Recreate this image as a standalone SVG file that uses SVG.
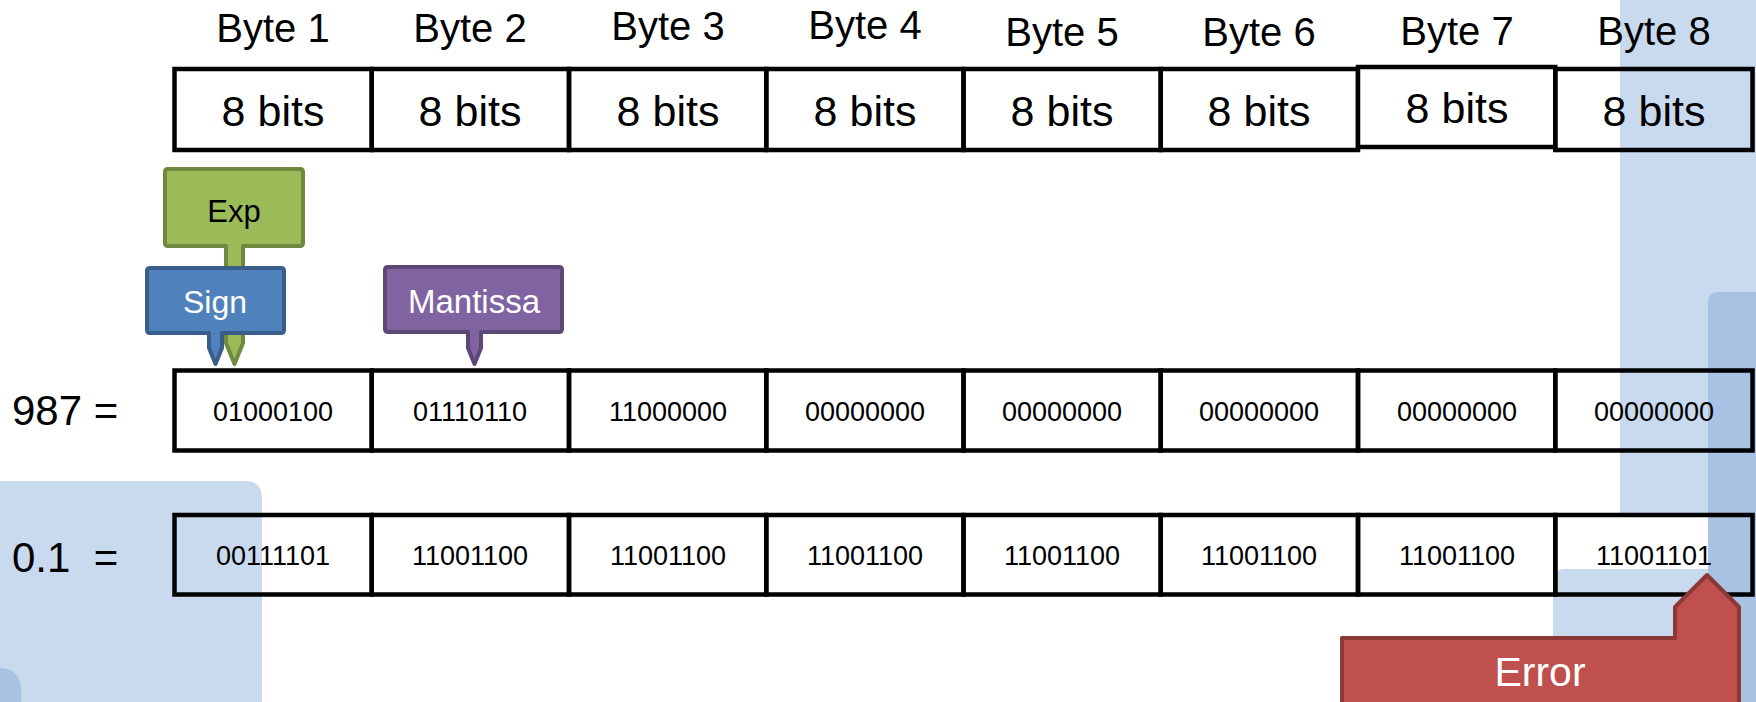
<svg xmlns="http://www.w3.org/2000/svg" width="1756" height="702" viewBox="0 0 1756 702">
<style>
text{font-family:"Liberation Sans",Arial,sans-serif;text-anchor:middle;fill:#000}
.lbl{font-size:40px}
.bits{font-size:43px}
.val{font-size:27px}
.eq{font-size:42px;text-anchor:start;white-space:pre}
.cell{fill:none;stroke:#000;stroke-width:4.5}
.bgl{fill:#C9D9EE}
.bgd{fill:#A9C1E2}
.co{stroke-width:4;stroke-linejoin:round}
.wt{fill:#fff;font-size:32px}
</style>
<g id="background">
<rect class="bgl" x="1620" y="0" width="136" height="514"/>
<path class="bgl" d="M1553,702 V581 Q1553,569 1565,569 H1756 V702 Z"/>
<path class="bgd" d="M1708,702 V302 Q1708,292 1718,292 H1756 V702 Z"/>
<path class="bgl" d="M0,702 V481 H245 Q262,481 262,498 V702 Z"/>
<path class="bgd" d="M0,702 V668 H1 A20,20 0 0 1 21,688 V702 Z"/>
</g>
<g id="connectors"/>
<g id="header">
<g id="byte1"><rect class="cell" x="174.5" y="69" width="197.25" height="81"/><text class="lbl" x="273" y="42">Byte 1</text><text class="bits" x="273" y="126">8 bits</text></g>
<g id="byte2"><rect class="cell" x="371.75" y="69" width="197.25" height="81"/><text class="lbl" x="470" y="42">Byte 2</text><text class="bits" x="470" y="126">8 bits</text></g>
<g id="byte3"><rect class="cell" x="569" y="69" width="197.25" height="81"/><text class="lbl" x="668" y="40">Byte 3</text><text class="bits" x="668" y="126">8 bits</text></g>
<g id="byte4"><rect class="cell" x="766.25" y="69" width="197.25" height="81"/><text class="lbl" x="865" y="39">Byte 4</text><text class="bits" x="865" y="126">8 bits</text></g>
<g id="byte5"><rect class="cell" x="963.5" y="69" width="197.25" height="81"/><text class="lbl" x="1062" y="46">Byte 5</text><text class="bits" x="1062" y="126">8 bits</text></g>
<g id="byte6"><rect class="cell" x="1160.75" y="69" width="197.25" height="81"/><text class="lbl" x="1259" y="46">Byte 6</text><text class="bits" x="1259" y="126">8 bits</text></g>
<g id="byte8"><rect class="cell" x="1555.25" y="69" width="197.25" height="81"/><text class="lbl" x="1654" y="45">Byte 8</text><text class="bits" x="1654" y="126">8 bits</text></g>
<g id="byte7"><rect class="cell" x="1358" y="67" width="197.25" height="80" style="fill:#fff"/><text class="lbl" x="1457" y="45">Byte 7</text><text class="bits" x="1457" y="123">8 bits</text></g>
</g>
<g id="row987">
<text class="eq" x="12" y="425">987 =</text>
<rect class="cell" x="174.5" y="370.5" width="197.25" height="80"/>
<rect class="cell" x="371.75" y="370.5" width="197.25" height="80"/>
<rect class="cell" x="569" y="370.5" width="197.25" height="80"/>
<rect class="cell" x="766.25" y="370.5" width="197.25" height="80"/>
<rect class="cell" x="963.5" y="370.5" width="197.25" height="80"/>
<rect class="cell" x="1160.75" y="370.5" width="197.25" height="80"/>
<rect class="cell" x="1358" y="370.5" width="197.25" height="80"/>
<rect class="cell" x="1555.25" y="370.5" width="197.25" height="80"/>
<text class="val" x="273" y="421">01000100</text>
<text class="val" x="470" y="421">01110110</text>
<text class="val" x="668" y="421">11000000</text>
<text class="val" x="865" y="421">00000000</text>
<text class="val" x="1062" y="421">00000000</text>
<text class="val" x="1259" y="421">00000000</text>
<text class="val" x="1457" y="421">00000000</text>
<text class="val" x="1654" y="421">00000000</text>
</g>
<g id="row01">
<text class="eq" x="12" y="572" xml:space="preserve">0.1  =</text>
<rect class="cell" x="174.5" y="515" width="197.25" height="79.5"/>
<rect class="cell" x="371.75" y="515" width="197.25" height="79.5"/>
<rect class="cell" x="569" y="515" width="197.25" height="79.5"/>
<rect class="cell" x="766.25" y="515" width="197.25" height="79.5"/>
<rect class="cell" x="963.5" y="515" width="197.25" height="79.5"/>
<rect class="cell" x="1160.75" y="515" width="197.25" height="79.5"/>
<rect class="cell" x="1358" y="515" width="197.25" height="79.5"/>
<rect class="cell" x="1555.25" y="515" width="197.25" height="79.5"/>
<text class="val" x="273" y="565">00111101</text>
<text class="val" x="470" y="565">11001100</text>
<text class="val" x="668" y="565">11001100</text>
<text class="val" x="865" y="565">11001100</text>
<text class="val" x="1062" y="565">11001100</text>
<text class="val" x="1259" y="565">11001100</text>
<text class="val" x="1457" y="565">11001100</text>
<text class="val" x="1654" y="565">11001101</text>
</g>
<g id="exp">
<path class="co" fill="#9BBB59" stroke="#71893F" d="M168,169 H300 Q303,169 303,172 V243 Q303,246 300,246 H243 V343 L234.5,364 L226,343 V246 H168 Q165,246 165,243 V172 Q165,169 168,169 Z"/>
<text x="234" y="222" style="font-size:31px">Exp</text>
</g>
<g id="sign">
<path class="co" fill="#4F81BD" stroke="#385D8A" d="M150,268 H281 Q284,268 284,271 V330 Q284,333 281,333 H222 V348 L215.5,364 L209,348 V333 H150 Q147,333 147,330 V271 Q147,268 150,268 Z"/>
<text class="wt" x="215" y="313">Sign</text>
</g>
<g id="mantissa">
<path class="co" fill="#8064A2" stroke="#5C4776" d="M388,267 H559 Q562,267 562,270 V329 Q562,332 559,332 H481 V348 L474.5,364 L468,348 V332 H388 Q385,332 385,329 V270 Q385,267 388,267 Z"/>
<text class="wt" x="474" y="313" style="font-size:33px">Mantissa</text>
</g>
<g id="error">
<path class="co" fill="#C0504D" stroke="#8C3836" d="M1342,720 V638 H1675 V607 L1707,575 L1739,607 V720 Z"/>
<text class="wt" x="1540" y="686" style="font-size:41px">Error</text>
</g>
</svg>
